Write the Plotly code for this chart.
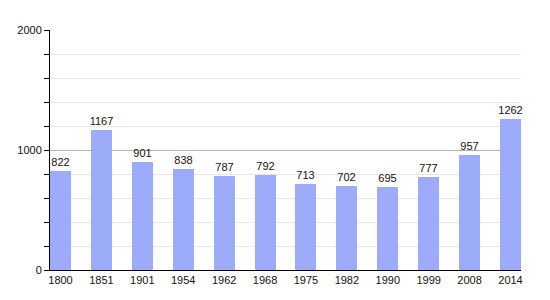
import plotly.graph_objects as go

years = ["1800", "1851", "1901", "1954", "1962", "1968", "1975", "1982", "1990", "1999", "2008", "2014"]
population = [822, 1167, 901, 838, 787, 792, 713, 702, 695, 777, 957, 1262]

fig = go.Figure()
fig.add_trace(go.Bar(
    x=years, y=population,
    width=0.513,
    marker=dict(color="#9cacfa", line=dict(width=0)),
    text=[str(v) for v in population],
    textposition="outside",
    constraintext="none",
    textfont=dict(family="Liberation Sans, Arial", size=11, color="#111111"),
    cliponaxis=False,
))

fig.update_layout(
    width=550, height=300,
    margin=dict(l=50, r=29, t=30, b=30),
    paper_bgcolor="white", plot_bgcolor="white",
    showlegend=False,
    font=dict(family="Liberation Sans, Arial", size=11, color="#111111"),
    uniformtext=dict(mode=False),
    xaxis=dict(
        type="category",
        range=[-0.2567, 11.2567],
        showgrid=False,
        showline=True, linecolor="black", linewidth=1,
        ticks="", tickfont=dict(size=11),
        fixedrange=True,
    ),
    yaxis=dict(
        range=[0, 2000],
        tickvals=[0, 1000, 2000],
        showgrid=True, gridcolor="#b4b4b4", gridwidth=1,
        showline=True, linecolor="black", linewidth=1,
        ticks="outside", ticklen=5, tickcolor="black",
        tickfont=dict(size=11),
        zeroline=False,
        minor=dict(dtick=200, tick0=0, ticks="outside", ticklen=5, tickcolor="black",
                   showgrid=True, gridcolor="#e8e8e8", gridwidth=1),
        fixedrange=True,
    ),
    bargap=0,
)

fig.write_html("out.html")
